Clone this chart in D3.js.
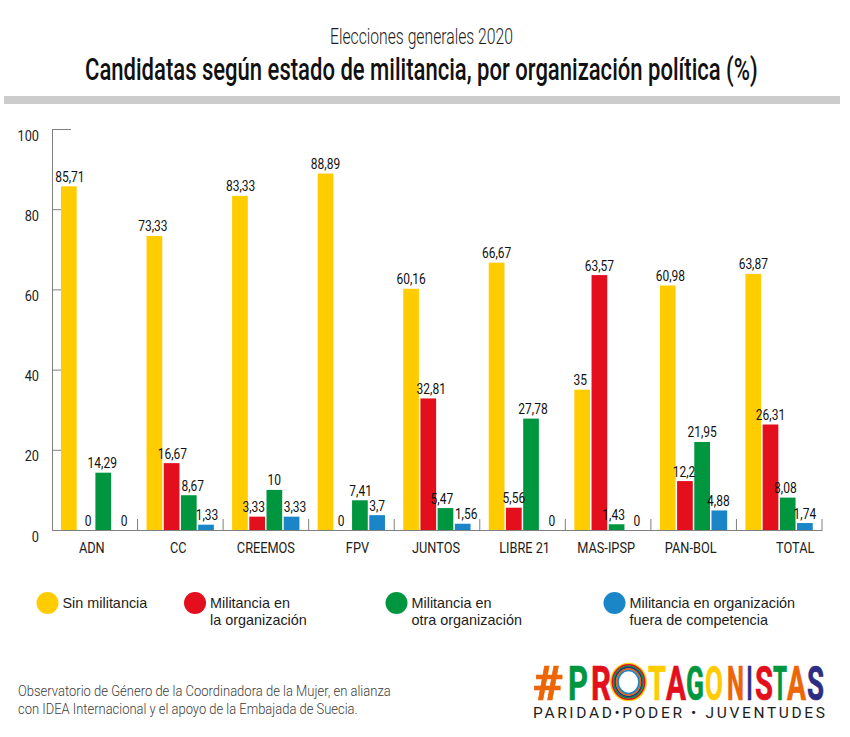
<!DOCTYPE html>
<html lang="es">
<head>
<meta charset="utf-8" />
<title>Candidatas según estado de militancia</title>
<script src="https://d3js.org/d3.v7.min.js"></script>
<style>
  html, body { margin: 0; padding: 0; background: #fff; }
  svg { display: block; }
</style>
</head>
<body>
<div id="chart"></div>
<script>
const categories = ["ADN", "CC", "CREEMOS", "FPV", "JUNTOS", "LIBRE 21", "MAS-IPSP", "PAN-BOL", "TOTAL"];
const sinMilitancia = [85.71, 73.33, 83.33, 88.89, 60.16, 66.67, 35, 60.98, 63.87];
const enOrganizacion = [0, 16.67, 3.33, 0, 32.81, 5.56, 63.57, 12.2, 26.31];
const otraOrganizacion = [14.29, 8.67, 10, 7.41, 5.47, 27.78, 1.43, 21.95, 8.08];
const fueraCompetencia = [0, 1.33, 3.33, 3.7, 1.56, 0, 0, 4.88, 1.74];
const yTicks = [0, 20, 40, 60, 80, 100];

const seriesValues = [sinMilitancia, enOrganizacion, otraOrganizacion, fueraCompetencia];
const seriesColors = ["#ffcc00", "#e30f1c", "#009640", "#1a86c8"];

// hand placed offsets of the value labels, same shape as seriesValues
const labelNudge = [
  [1, -1.6, 0.7, 0, 0, 0, -2, 2.7, 0],
  [2, 0.7, -3.4, -1.5, 3, 0, 0, -1, 0],
  [-1, 4, 0, 0.7, -3.6, 2, -3, 0, -2.3],
  [3.6, 1, 3.4, 0, 3.5, 3.6, 3, -1, 0]
];
const categoryNudge = [-3, -2, 0, 6, -1, 2, -2, -3, 16];

const W = 850, H = 737;
const font = "Roboto, sans-serif";
const axisColor = "#7f7f7f";
const svg = d3.select("#chart").append("svg").attr("width", W).attr("height", H);

// squeeze text horizontally, none of the installed fonts is condensed
// k is a factor, or a function that gives the wanted width in pixels
function squeeze(sel, k, toWidth) {
  sel.each(function (d) {
    const t = d3.select(this);
    const px = +t.attr("x"), py = +t.attr("y");
    const f = toWidth ? toWidth(d) / this.getComputedTextLength() : k;
    t.attr("x", 0).attr("y", 0).attr("transform", `translate(${px},${py}) scale(${f},1)`);
  });
}

// header
svg.append("text").attr("x", 330).attr("y", 44)
  .attr("font-family", font).attr("font-weight", 300).attr("font-size", 22).attr("fill", "#1d1d1b")
  .text("Elecciones generales 2020")
  .call(squeeze, 0, () => 183);
svg.append("text").attr("x", 85).attr("y", 79.5)
  .attr("font-family", font).attr("font-weight", 500).attr("font-size", 31).attr("fill", "#111")
  .text("Candidatas según estado de militancia, por organización política (%)")
  .call(squeeze, 0, () => 673);
svg.append("rect").attr("x", 4).attr("y", 96).attr("width", 836).attr("height", 8).attr("fill", "#cccccc");

// scales
const x = d3.scaleBand().domain(categories).range([52, 822]);
const xInner = d3.scaleBand().domain(d3.range(4)).range([9, 76.3]).paddingInner(0.087);
const y = d3.scaleLinear().domain([0, 100]).range([530, 129]);

// axes
const gy = svg.append("g").attr("transform", "translate(52,0)")
  .call(d3.axisRight(y).tickValues(yTicks).tickSize(19).tickFormat(""));
gy.select(".domain").attr("stroke", axisColor).attr("stroke-width", 1);
gy.selectAll(".tick line").attr("stroke", axisColor).attr("stroke-width", 1);
gy.selectAll(".tick").filter(d => d === 0).select("line").remove();

svg.append("g").selectAll("text").data(yTicks).join("text")
  .attr("x", 39)
  .attr("y", d => y(d) + 11.5)
  .attr("text-anchor", "end").attr("font-family", font)
  .attr("font-size", 15).attr("fill", "#1d1d1b").text(d => d)
  .call(squeeze, 0.85);

const gx = svg.append("g").attr("transform", "translate(0,530)")
  .call(d3.axisTop(x).tickValues([]).tickSize(0));
gx.select(".domain").attr("stroke", axisColor).attr("stroke-width", 1.2);
gx.selectAll("line.sep").data(categories.slice(1).map(d => x(d)).concat(x.range()[1])).join("line")
  .attr("class", "sep")
  .attr("x1", d => d).attr("x2", d => d).attr("y1", 0).attr("y2", -11)
  .attr("stroke", axisColor).attr("stroke-width", 1);

svg.append("g").selectAll("text").data(categories).join("text")
  .attr("x", (d, i) => x(d) + x.bandwidth() / 2 + categoryNudge[i])
  .attr("y", 553).attr("text-anchor", "middle")
  .attr("font-family", font).attr("font-size", 14.5).attr("fill", "#1d1d1b")
  .text(d => d)
  .call(squeeze, 0.88);

// bars and labels
const groups = svg.append("g").selectAll("g").data(categories).join("g")
  .attr("transform", d => `translate(${x(d)},0)`);
groups.each(function (cat, c) {
  const g = d3.select(this);
  const rows = seriesValues.map((s, i) => ({ i, v: s[c] }));
  g.selectAll("rect").data(rows).join("rect")
    .attr("x", d => xInner(d.i)).attr("width", xInner.bandwidth())
    .attr("y", d => y(d.v)).attr("height", d => y(0) - y(d.v))
    .attr("fill", d => seriesColors[d.i]);
  g.selectAll("text").data(rows).join("text")
    .attr("x", d => xInner(d.i) + xInner.bandwidth() / 2 + labelNudge[d.i][c])
    .attr("y", d => y(d.v) - 4.5)
    .attr("text-anchor", "middle").attr("font-family", font)
    .attr("font-size", 15).attr("fill", "#111")
    .text(d => String(d.v).replace(".", ","))
    .call(squeeze, 0.8);
});

// legend
const legendItems = [
  { c: 0, cx: 47.5, lines: ["Sin militancia"] },
  { c: 1, cx: 195, lines: ["Militancia en", "la organización"] },
  { c: 2, cx: 396.5, lines: ["Militancia en", "otra organización"] },
  { c: 3, cx: 614.5, lines: ["Militancia en organización", "fuera de competencia"] }
];
const legend = svg.append("g").selectAll("g").data(legendItems).join("g");
legend.append("circle").attr("cx", d => d.cx).attr("cy", 603).attr("r", 11)
  .attr("fill", d => seriesColors[d.c]);
legend.each(function (d) {
  d3.select(this).selectAll("text").data(d.lines).join("text")
    .attr("x", d.cx + 15).attr("y", (l, i) => 607.8 + i * 17.5)
    .attr("font-family", "'Liberation Sans', Arial, sans-serif").attr("font-size", 14.4)
    .attr("fill", "#1d1d1b").text(l => l);
});

// source note
const note = [
  { t: "Observatorio de Género de la Coordinadora de la Mujer, en alianza", w: 373 },
  { t: "con IDEA Internacional y el apoyo de la Embajada de Suecia.", w: 340 }
];
svg.append("g").selectAll("text").data(note).join("text")
  .attr("x", 18).attr("y", (d, i) => 696 + i * 17.5)
  .attr("font-family", font).attr("font-weight", 300).attr("font-size", 15).attr("fill", "#3c3c3b")
  .text(d => d.t)
  .call(squeeze, 0, d => d.w);

// logo, letter by letter because each one has its own colour and width
const logoLetters = [
  { t: "#", x: 533, w: 30, c: "#ec6608" },
  { t: "P", x: 568, w: 20, c: "#009640" },
  { t: "R", x: 591, w: 20, c: "#e30f1c" },
  { t: "T", x: 648, w: 18, c: "#ffcc00" },
  { t: "A", x: 666, w: 20, c: "#e30f1c" },
  { t: "G", x: 686, w: 18, c: "#009640" },
  { t: "O", x: 705, w: 18, c: "#ffcc00" },
  { t: "N", x: 727, w: 17, c: "#ec6608" },
  { t: "I", x: 746.5, w: 6, c: "#2d2e83" },
  { t: "S", x: 755, w: 18, c: "#e30f1c" },
  { t: "T", x: 773, w: 14, c: "#009640" },
  { t: "A", x: 787, w: 19, c: "#ec6608" },
  { t: "S", x: 807, w: 17, c: "#2d2e83" }
];
svg.append("g").selectAll("text").data(logoLetters).join("text")
  .attr("x", d => d.x).attr("y", 700)
  .attr("font-family", font).attr("font-weight", 700).attr("font-size", 49)
  .attr("fill", d => d.c).attr("stroke", d => d.c).attr("stroke-width", 0.7)
  .text(d => d.t)
  .call(squeeze, 0, d => d.w);

// the ring that stands in for the first O
const ringColors = ["#ffcc00", "#e30f1c", "#009640", "#2d2e83", "#ec6608", "#1a86c8"];
svg.append("g").selectAll("ellipse").data(ringColors).join("ellipse")
  .attr("cx", 628.5).attr("cy", 682)
  .attr("rx", (d, i) => 17.5 - i * 1.4).attr("ry", (d, i) => 18.5 - i * 1.4)
  .attr("fill", "none").attr("stroke", d => d).attr("stroke-width", 1.7);

svg.append("text").attr("x", 533).attr("y", 718).attr("font-family", font)
  .attr("font-size", 15.5).attr("fill", "#1d1d1b")
  .attr("textLength", 292).attr("lengthAdjust", "spacing")
  .text("PARIDAD•PODER • JUVENTUDES");
</script>
</body>
</html>
